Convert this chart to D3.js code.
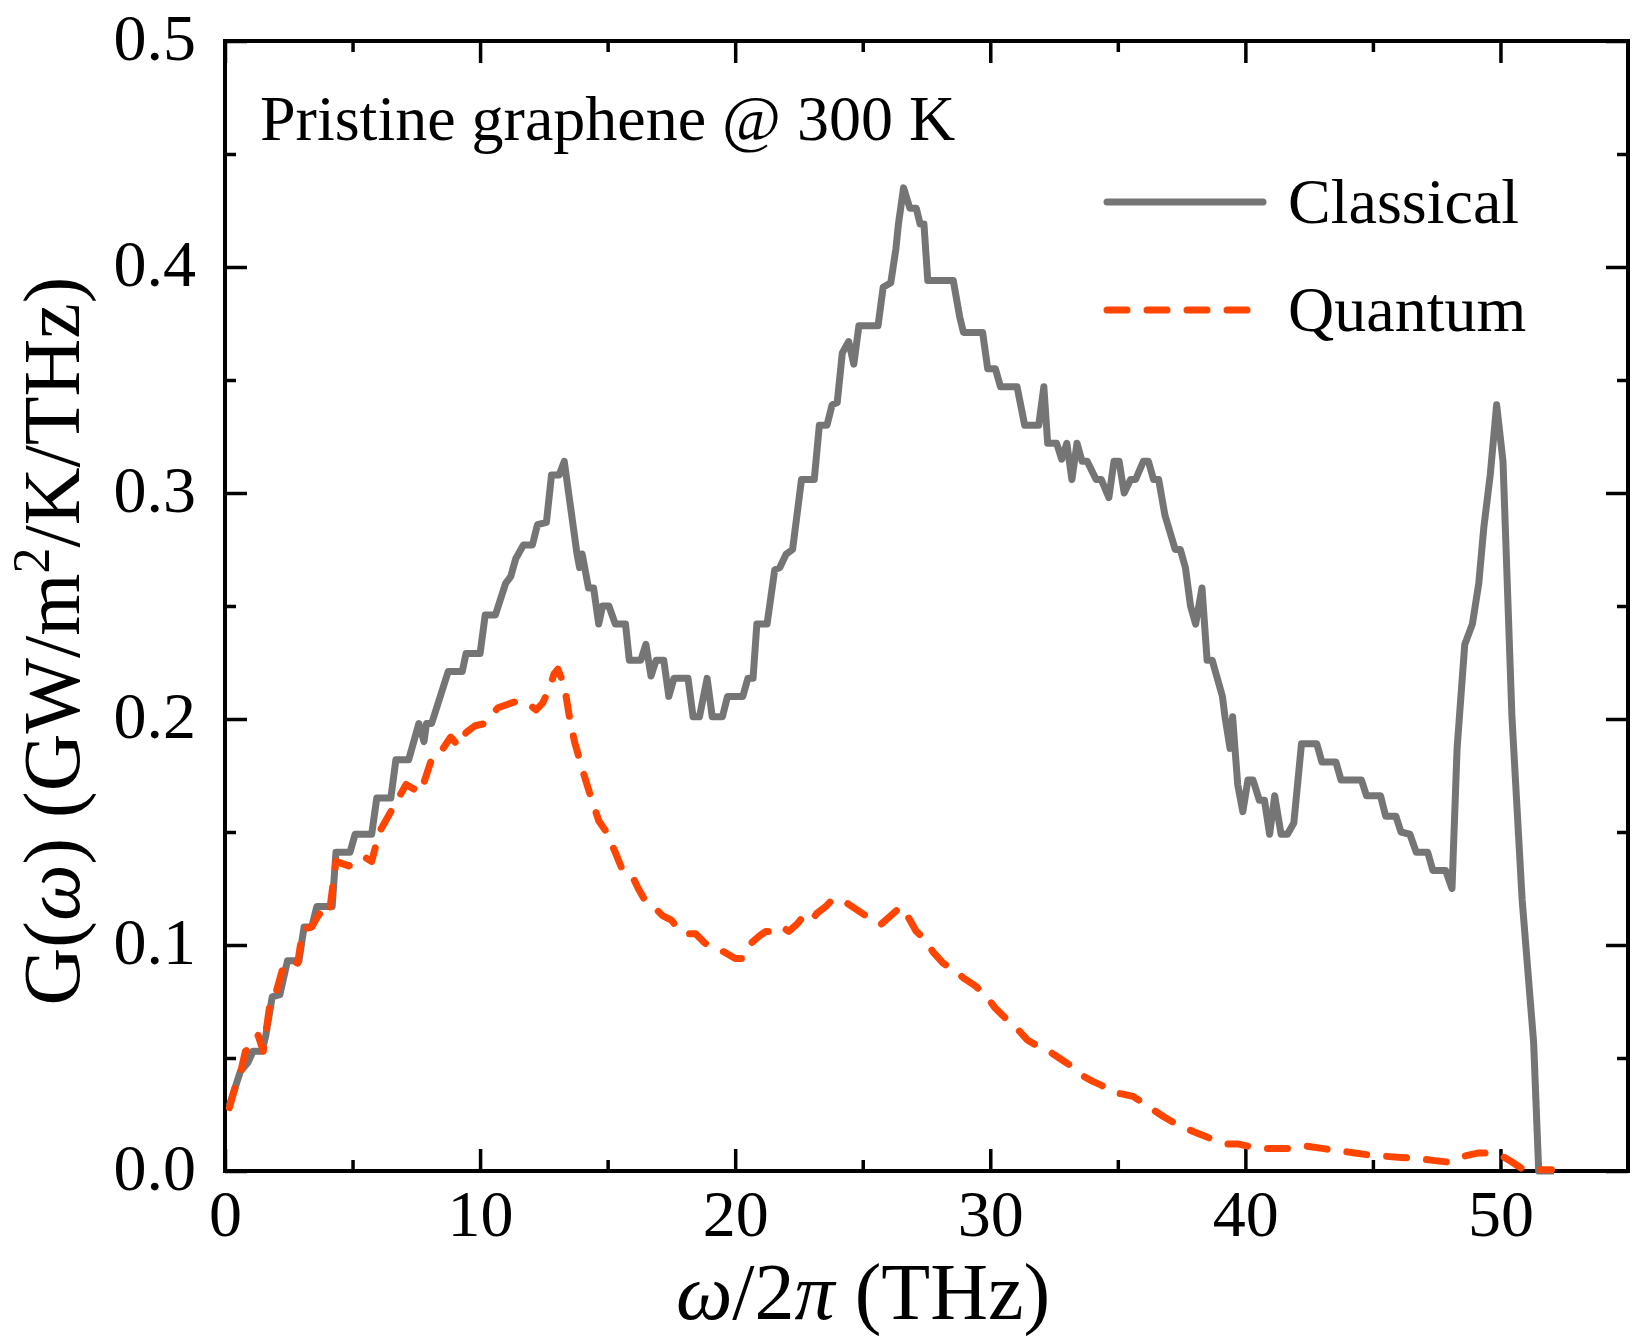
<!DOCTYPE html>
<html>
<head>
<meta charset="utf-8">
<script src="https://cdn.jsdelivr.net/npm/d3@7"></script>
<style>
  body { margin: 0; background: #fff; }
  text { font-family: "Liberation Serif", "Times New Roman", serif; fill: #000; }
</style>
</head>
<body>
<div id="chart"></div>
<script>
// classical curve, frequency (THz) and G (GW/m2/K/THz)
var classicalFreq = [0.17, 0.6, 0.9, 1.1, 1.45, 1.6, 1.85, 2.15, 2.45, 2.9,
  3.1, 3.4, 3.6, 4.2, 4.35, 4.9, 5.1, 5.75, 5.95, 6.5,
  6.7, 7.2, 7.6, 7.8, 7.9, 8.1, 8.75, 9.3, 9.45, 10.0,
  10.2, 10.6, 11.0, 11.2, 11.4, 11.7, 12.05, 12.25, 12.6, 12.8,
  13.1, 13.3, 13.8, 13.9, 14.0, 14.25, 14.45, 14.65, 14.8, 15.05,
  15.3, 15.7, 15.85, 16.3, 16.5, 16.7, 16.9, 17.2, 17.4, 17.6,
  18.15, 18.35, 18.6, 18.9, 19.1, 19.5, 19.7, 20.3, 20.5, 20.7,
  20.85, 21.25, 21.55, 21.75, 22.0, 22.25, 22.6, 23.1, 23.3, 23.6,
  23.8, 24.0, 24.2, 24.45, 24.65, 24.85, 25.6, 25.8, 26.1, 26.3,
  26.4, 26.6, 26.85, 27.1, 27.25, 27.4, 27.55, 28.55, 28.8, 28.95,
  29.7, 29.9, 30.2, 30.4, 31.05, 31.35, 31.9, 32.1, 32.25, 32.6,
  32.8, 33.0, 33.2, 33.4, 33.6, 33.8, 34.15, 34.35, 34.65, 34.85,
  35.05, 35.25, 35.5, 35.7, 36.0, 36.2, 36.4, 36.6, 36.85, 37.25,
  37.45, 37.65, 37.85, 38.05, 38.3, 38.5, 38.7, 39.1, 39.2, 39.4,
  39.5, 39.7, 39.9, 40.1, 40.3, 40.55, 40.75, 40.95, 41.15, 41.4,
  41.65, 41.9, 42.2, 42.8, 43.0, 43.55, 43.75, 44.55, 44.75, 45.3,
  45.5, 45.9, 46.1, 46.45, 46.7, 47.15, 47.35, 47.85, 48.1, 48.3,
  48.6, 48.9, 49.15, 49.35, 49.6, 49.85, 50.1, 50.45, 50.85, 51.3,
  51.5, 52.1];
var classicalG = [0.029, 0.044, 0.048, 0.053, 0.053, 0.06, 0.077, 0.078, 0.093, 0.093,
  0.108, 0.108, 0.117, 0.117, 0.141, 0.141, 0.149, 0.149, 0.165, 0.165,
  0.182, 0.182, 0.198, 0.19, 0.198, 0.198, 0.221, 0.221, 0.229, 0.229,
  0.246, 0.246, 0.26, 0.263, 0.271, 0.277, 0.277, 0.286, 0.287, 0.308,
  0.308, 0.314, 0.273, 0.267, 0.273, 0.258, 0.258, 0.242, 0.25, 0.25,
  0.242, 0.242, 0.226, 0.226, 0.233, 0.219, 0.226, 0.226, 0.21, 0.218,
  0.218, 0.201, 0.201, 0.218, 0.201, 0.201, 0.21, 0.21, 0.218, 0.218,
  0.242, 0.242, 0.266, 0.267, 0.273, 0.275, 0.306, 0.306, 0.33, 0.33,
  0.339, 0.34, 0.362, 0.367, 0.357, 0.374, 0.374, 0.391, 0.393, 0.408,
  0.419, 0.435, 0.426, 0.426, 0.419, 0.419, 0.394, 0.394, 0.378, 0.371,
  0.371, 0.355, 0.355, 0.347, 0.347, 0.33, 0.33, 0.347, 0.322, 0.322,
  0.315, 0.322, 0.306, 0.322, 0.314, 0.314, 0.306, 0.306, 0.298, 0.314,
  0.314, 0.3, 0.306, 0.306, 0.314, 0.314, 0.306, 0.306, 0.29, 0.275,
  0.275, 0.267, 0.25, 0.242, 0.258, 0.226, 0.226, 0.21, 0.201, 0.187,
  0.201, 0.171, 0.159, 0.173, 0.173, 0.164, 0.164, 0.149, 0.166, 0.149,
  0.149, 0.154, 0.189, 0.189, 0.181, 0.181, 0.173, 0.173, 0.166, 0.166,
  0.157, 0.157, 0.15, 0.149, 0.141, 0.141, 0.133, 0.133, 0.125, 0.187,
  0.233, 0.242, 0.26, 0.285, 0.308, 0.339, 0.314, 0.201, 0.12, 0.057,
  0.0, 0.0];

// quantum-corrected curve
var quantumFreq = [0.17, 0.37, 0.6, 0.8, 1.1, 1.3, 1.5, 1.75, 1.95, 2.3,
  2.55, 2.85, 3.05, 3.4, 3.6, 3.9, 4.1, 4.35, 4.85, 5.15,
  5.45, 5.75, 6.05, 6.35, 6.7, 7.1, 7.4, 7.65, 7.8, 8.15,
  8.55, 8.85, 9.15, 9.45, 9.8, 10.2, 10.4, 10.7, 10.95, 11.2,
  11.5, 11.85, 12.2, 12.45, 12.7, 12.9, 13.05, 13.3, 13.5, 13.7,
  14.0, 14.3, 14.65, 14.95, 15.3, 15.55, 15.9, 16.2, 16.45, 16.8,
  17.15, 17.5, 17.85, 18.1, 18.45, 18.8, 19.15, 19.55, 20.0, 20.3,
  20.65, 20.95, 21.2, 21.55, 21.85, 22.1, 22.4, 22.7, 23.0, 23.2,
  23.55, 23.8, 24.15, 24.45, 24.85, 25.25, 25.7, 26.0, 26.3, 26.5,
  26.8, 27.1, 27.4, 27.75, 28.15, 28.55, 29.0, 29.4, 29.8, 30.2,
  30.65, 31.05, 31.45, 31.9, 32.3, 32.7, 33.1, 33.5, 33.95, 34.35,
  34.75, 35.2, 35.6, 36.0, 36.4, 36.8, 37.25, 37.65, 38.05, 38.5,
  38.9, 39.3, 39.7, 40.1, 40.55, 41.15, 41.8, 42.4, 43.0, 43.6,
  44.3, 44.9, 45.5, 46.1, 46.7, 47.35, 47.9, 48.35, 48.75, 49.15,
  49.6, 50.0, 50.45, 50.85, 51.3, 52.0];
var quantumG = [0.028, 0.036, 0.043, 0.053, 0.055, 0.06, 0.053, 0.073, 0.077, 0.091,
  0.093, 0.092, 0.107, 0.108, 0.112, 0.117, 0.115, 0.137, 0.135, 0.137,
  0.139, 0.137, 0.15, 0.156, 0.163, 0.171, 0.169, 0.174, 0.172, 0.184,
  0.187, 0.192, 0.188, 0.194, 0.197, 0.198, 0.201, 0.205, 0.206, 0.207,
  0.208, 0.207, 0.204, 0.207, 0.213, 0.22, 0.222, 0.215, 0.201, 0.19,
  0.178, 0.167, 0.155, 0.15, 0.141, 0.134, 0.132, 0.125, 0.12, 0.117,
  0.113, 0.111, 0.106, 0.105, 0.105, 0.101, 0.098, 0.097, 0.094, 0.094,
  0.101, 0.104, 0.106, 0.106, 0.108, 0.106, 0.109, 0.113, 0.111, 0.114,
  0.117, 0.12, 0.12, 0.118, 0.115, 0.112, 0.109, 0.112, 0.115, 0.117,
  0.112, 0.106, 0.103, 0.097, 0.092, 0.089, 0.085, 0.082, 0.078, 0.072,
  0.067, 0.063, 0.058, 0.055, 0.053, 0.05, 0.047, 0.043, 0.04, 0.038,
  0.035, 0.034, 0.033, 0.03, 0.027, 0.024, 0.021, 0.019, 0.017, 0.015,
  0.013, 0.012, 0.012, 0.011, 0.01, 0.01, 0.01, 0.011, 0.01, 0.009,
  0.008, 0.007, 0.0065, 0.006, 0.0056, 0.0047, 0.004, 0.006, 0.007, 0.008,
  0.008, 0.007, 0.004, 0.001, 0.0005, 0.0005];

var xTicks = [0, 10, 20, 30, 40, 50];
var xMinorTicks = [5, 15, 25, 35, 45];
var yTicks = [0, 0.1, 0.2, 0.3, 0.4, 0.5];
var yMinorTicks = [0.05, 0.15, 0.25, 0.35, 0.45];
var seriesNames = ["Classical", "Quantum"];
var titleText = "Pristine graphene @ 300 K";

var width = 1650, height = 1344;
var margin = {top: 41, right: 22, bottom: 173, left: 225};
var plotW = width - margin.left - margin.right;
var plotH = height - margin.top - margin.bottom;

var gray = "#757575";
var orange = "#ff4500";
var lineW = 7;
var dash = "20,20";

var svg = d3.select("#chart").append("svg")
  .attr("width", width)
  .attr("height", height);

var g = svg.append("g")
  .attr("transform", "translate(" + margin.left + "," + margin.top + ")");

var x = d3.scaleLinear().domain([0, 55]).range([0, plotW]);
var y = d3.scaleLinear().domain([0, 0.5]).range([plotH, 0]);

function styleAxis(sel) {
  sel.select(".domain").remove();
  sel.selectAll(".tick line").attr("stroke", "#000").attr("stroke-width", 3.5);
  sel.selectAll(".tick text").style("font-size", "66px").attr("fill", "#000");
}

// major ticks with labels
g.append("g")
  .attr("transform", "translate(0," + plotH + ")")
  .call(d3.axisBottom(x).tickValues(xTicks).tickSizeInner(-22).tickSizeOuter(0)
    .tickPadding(18).tickFormat(d3.format("d")))
  .call(styleAxis);

g.append("g")
  .call(d3.axisLeft(y).tickValues(yTicks).tickSizeInner(-22).tickSizeOuter(0)
    .tickPadding(29).tickFormat(d3.format(".1f")))
  .call(styleAxis)
  .selectAll(".tick text").attr("dy", "0.28em");

g.append("g")
  .call(d3.axisTop(x).tickValues(xTicks).tickSizeInner(-22).tickSizeOuter(0).tickFormat(""))
  .call(styleAxis);

g.append("g")
  .attr("transform", "translate(" + plotW + ",0)")
  .call(d3.axisRight(y).tickValues(yTicks).tickSizeInner(-22).tickSizeOuter(0).tickFormat(""))
  .call(styleAxis);

// minor ticks
g.append("g")
  .attr("transform", "translate(0," + plotH + ")")
  .call(d3.axisBottom(x).tickValues(xMinorTicks).tickSizeInner(-11).tickSizeOuter(0).tickFormat(""))
  .call(styleAxis);
g.append("g")
  .call(d3.axisTop(x).tickValues(xMinorTicks).tickSizeInner(-11).tickSizeOuter(0).tickFormat(""))
  .call(styleAxis);
g.append("g")
  .call(d3.axisLeft(y).tickValues(yMinorTicks).tickSizeInner(-11).tickSizeOuter(0).tickFormat(""))
  .call(styleAxis);
g.append("g")
  .attr("transform", "translate(" + plotW + ",0)")
  .call(d3.axisRight(y).tickValues(yMinorTicks).tickSizeInner(-11).tickSizeOuter(0).tickFormat(""))
  .call(styleAxis);

// frame
g.append("rect")
  .attr("width", plotW)
  .attr("height", plotH)
  .attr("fill", "none")
  .attr("stroke", "#000")
  .attr("stroke-width", 4);

var line = d3.line()
  .x(function(d) { return x(d[0]); })
  .y(function(d) { return y(d[1]); });

g.append("path")
  .datum(d3.zip(classicalFreq, classicalG))
  .attr("fill", "none")
  .attr("stroke", gray)
  .attr("stroke-width", lineW)
  .attr("stroke-linejoin", "round")
  .attr("d", line);

g.append("path")
  .datum(d3.zip(quantumFreq, quantumG))
  .attr("fill", "none")
  .attr("stroke", orange)
  .attr("stroke-width", lineW)
  .attr("stroke-linecap", "round")
  .attr("stroke-linejoin", "round")
  .attr("stroke-dasharray", dash)
  .attr("d", line);

// title
svg.append("text")
  .attr("x", 260)
  .attr("y", 140)
  .style("font-size", "64px")
  .text(titleText);

// legend
var legend = svg.append("g");
var legendRows = [
  {name: seriesNames[0], color: gray, dash: null, y: 202},
  {name: seriesNames[1], color: orange, dash: dash, y: 310}
];
legendRows.forEach(function(r) {
  legend.append("line")
    .attr("x1", 1107).attr("x2", 1263)
    .attr("y1", r.y).attr("y2", r.y)
    .attr("stroke", r.color)
    .attr("stroke-width", lineW)
    .attr("stroke-linecap", "round")
    .attr("stroke-dasharray", r.dash);
  legend.append("text")
    .attr("x", 1288)
    .attr("y", r.y + 21)
    .style("font-size", "64px")
    .text(r.name);
});

// axis labels
var xl = svg.append("text")
  .attr("x", 863)
  .attr("y", 1319)
  .attr("text-anchor", "middle")
  .style("font-size", "80px");
xl.append("tspan").style("font-style", "italic").text("ω");
xl.append("tspan").text("/2");
xl.append("tspan").style("font-style", "italic").text("π");
xl.append("tspan").text(" (THz)");

var yl = svg.append("text")
  .attr("transform", "translate(79," + (margin.top + plotH / 2 + 35) + ") rotate(-90)")
  .attr("text-anchor", "middle")
  .style("font-size", "80px");
yl.append("tspan").text("G(");
yl.append("tspan").style("font-style", "italic").text("ω");
yl.append("tspan").text(") (GW/m");
yl.append("tspan").style("font-size", "52px").attr("dy", "-30").text("2");
yl.append("tspan").attr("dy", "30").text("/K/THz)");
</script>
</body>
</html>
